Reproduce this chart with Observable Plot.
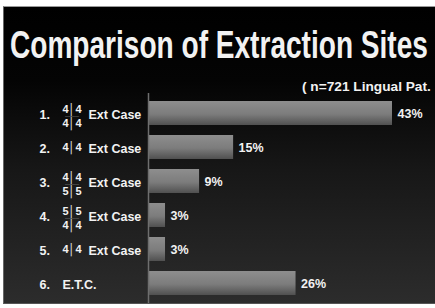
<!DOCTYPE html>
<html><head><meta charset="utf-8">
<script src="https://cdn.jsdelivr.net/npm/d3@7"></script>
<script src="https://cdn.jsdelivr.net/npm/@observablehq/plot@0.6"></script>
<style>
html,body{margin:0;padding:0;background:#fff;}
#wrap{position:relative;width:435px;height:308px;background:#fff;overflow:hidden;}
#panel{position:absolute;left:3px;top:6px;width:432px;height:298px;background:linear-gradient(to bottom,#000 0%,#040404 25%,#171717 55%,#2c2c2c 100%);border-top:1px solid #999;border-left:1px solid #666;border-bottom:1px solid #555;box-sizing:border-box;}
#chart{position:absolute;left:0;top:0;}
</style></head><body>
<div id="wrap"><div id="panel"></div><div id="chart"></div></div>
<script>
const titleText = "Comparison of Extraction Sites";
const subtitleText = "( n=721 Lingual Pat.";
const ranks = ["1.", "2.", "3.", "4.", "5.", "6."];
const upperTeeth = ["4", "4", "4", "5", "", ""];
const lowerTeeth = ["4", "", "5", "4", "4", ""];
const caseNames = ["Ext Case", "Ext Case", "Ext Case", "Ext Case", "Ext Case", "E.T.C."];
const shares = [43, 15, 9, 3, 3, 26];
const valueLabels = ["43%", "15%", "9%", "3%", "3%", "26%"];

const data = ranks.map((r, i) => ({
  key: r, rank: r, upper: upperTeeth[i], lower: lowerTeeth[i],
  name: caseNames[i], value: shares[i], label: valueLabels[i]
}));
const both = data.filter(d => d.upper && d.lower);
const single = data.filter(d => (d.upper && !d.lower) || (!d.upper && d.lower));
const withTeeth = data.filter(d => d.upper || d.lower);
const noTeeth = data.filter(d => !d.upper && !d.lower);
const quad = t => `${t}\u2502${t}`;

const font = "Liberation Sans, Arial, sans-serif";
const white = "#f2f2f2";

const defs = () => {
  const g = d3.create("svg:defs");
  const lg = g.append("linearGradient").attr("id", "barGrad").attr("x1", 0).attr("y1", 0).attr("x2", 0).attr("y2", 1);
  lg.append("stop").attr("offset", "0%").attr("stop-color", "#8e8e8e");
  lg.append("stop").attr("offset", "55%").attr("stop-color", "#7c7c7c");
  lg.append("stop").attr("offset", "100%").attr("stop-color", "#505050");
  return g.node();
};

const chart = Plot.plot({
  width: 435, height: 308,
  marginLeft: 148, marginRight: 43, marginTop: 89, marginBottom: 0,
  x: {domain: [0, 43], axis: null},
  y: {domain: ranks, padding: 0.286, axis: null},
  style: {background: "transparent", color: white, fontFamily: font},
  marks: [
    defs,
    Plot.barX(data, {x: "value", y: "key", fill: "url(#barGrad)"}),
    Plot.ruleX([0], {stroke: "#6e6e6e", strokeWidth: 1.5, insetTop: 4, insetBottom: 5}),
    Plot.text(data, {x: "value", y: "key", text: "label", dx: 5, textAnchor: "start",
      fill: white, fontWeight: "bold", fontSize: 12.5}),
    Plot.text(data, {x: 0, y: "key", text: "rank", dx: -109, dy: 1, textAnchor: "start",
      fill: white, fontWeight: "bold", fontSize: 12.5}),
    Plot.text(withTeeth, {x: 0, y: "key", text: "name", dx: -60, dy: 1, textAnchor: "start",
      fill: white, fontWeight: "bold", fontSize: 12.5}),
    Plot.text(noTeeth, {x: 0, y: "key", text: "name", dx: -86, dy: 1, textAnchor: "start",
      fill: white, fontWeight: "bold", fontSize: 12.5}),
    // two-row quadrant notation
    Plot.text(both, {x: 0, y: "key", text: d => quad(d.upper), dx: -76.5, dy: -4, fill: white, fontWeight: "bold", fontSize: 11}),
    Plot.text(both, {x: 0, y: "key", text: d => quad(d.lower), dx: -76.5, dy: 9.5, fill: white, fontWeight: "bold", fontSize: 11}),
    Plot.text(both, {x: 0, y: "key", text: () => "\u2500\u2500\u2500\u2500", dx: -76.5, dy: 2.5, fill: "#8a8a8a", fontSize: 5}),
    // single-row notation
    Plot.text(single, {x: 0, y: "key", text: d => quad(d.upper || d.lower), dx: -76.5, dy: 0, fill: white, fontWeight: "bold", fontSize: 11})
  ]
});

document.getElementById("chart").appendChild(chart);

const svg = d3.select(chart);
const title = svg.append("text").text(titleText)
  .attr("x", 0).attr("y", 0).attr("text-anchor", "start")
  .attr("font-family", font).attr("font-weight", "bold").attr("font-size", 39)
  .attr("fill", white);
const tw = title.node().getComputedTextLength() || 581;
title.attr("transform", `translate(10,58) scale(${418 / tw},1)`);

const sub = svg.append("text").text(subtitleText)
  .attr("x", 0).attr("y", 0).attr("text-anchor", "start")
  .attr("font-family", font).attr("font-weight", "bold").attr("font-size", 13.5)
  .attr("fill", white);
const sw = sub.node().getComputedTextLength() || 129;
sub.attr("transform", `translate(302,91) scale(${129 / sw},1)`);
</script>
</body></html>
